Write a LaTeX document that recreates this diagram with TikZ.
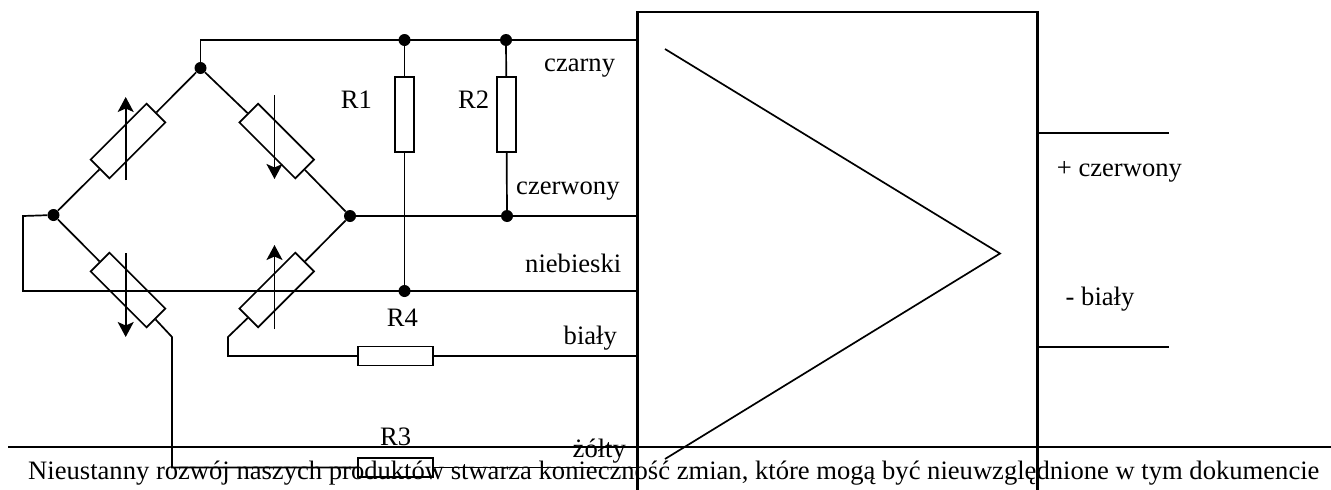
\documentclass[tikz,border=0pt]{standalone}
\usepackage{fontspec}
\setmainfont{Liberation Serif}
\usetikzlibrary{arrows.meta}
\begin{document}
\begin{tikzpicture}[x=1pt, y=-1pt,
  wire/.style={line width=1.7pt},
  thickwire/.style={line width=2.2pt},
  blockres/.style={rectangle, draw, line width=1.7pt, minimum width=75pt, minimum height=19pt, inner sep=0pt},
  bridgeres/.style={rectangle, draw, line width=1.7pt, minimum width=79pt, minimum height=26.5pt, inner sep=0pt},
  dot/.style={circle, fill=black, minimum size=12pt, inner sep=0pt},
  lab/.style={inner sep=0pt, anchor=base west, font=\fontsize{26.6pt}{30pt}\selectfont},
  sens/.style={line width=1.7pt, -{Stealth[length=15pt,width=16pt,inset=3.5pt]}}]
  \useasboundingbox (0,0) rectangle (1331,490);
  % bridge
  \node[dot] (top) at (200.5,68) {};
  \node[dot] (left) at (53.5,215) {};
  \node[dot] (right) at (350,216) {};
  \node[bridgeres, rotate=45] (Rul) at (128,141) {};
  \node[bridgeres, rotate=-45] (Rur) at (276.7,141) {};
  \node[bridgeres, rotate=-45] (Rll) at (128,290) {};
  \node[bridgeres, rotate=45] (Rlr) at (276.7,290) {};
  \coordinate (bendll) at (172,337);
  \coordinate (bendlr) at (228,337);
  \coordinate (loopa) at (23,216);
  \coordinate (loopb) at (23,291);
  \draw[wire] (top) -- (Rul);
  \draw[wire] (top) -- (Rur);
  \draw[wire] (left) -- (Rul);
  \draw[wire] (right) -- (Rur);
  \draw[wire] (left) -- (Rll);
  \draw[wire] (right) -- (Rlr);

  % block
  \coordinate (blocktl) at (637.5,12);
  \coordinate (blocktr) at (1037.5,12);
  \coordinate (blockbl) at (637.5,490);
  \coordinate (blockbr) at (1037.5,490);
  \draw[thickwire] (blockbl) -- (blocktl) -- (blocktr) -- (blockbr);
  \coordinate (ampa) at (665,49);
  \coordinate (ampb) at (1000,253.5);
  \coordinate (ampc) at (665,459);
  \draw[wire] (ampa) -- (ampb) -- (ampc);
  \coordinate (outa) at (1168.5,132.7);
  \coordinate (outb) at (1168.5,347);
  \draw[wire] (outa) -- (outa -| blocktr);
  \draw[wire] (outb) -- (outb -| blocktr);

  % upper wires
  \coordinate (blacka) at (200.5,40);
  \node[dot] (n1) at (404.5,40) {};
  \node[dot] (n2) at (506,40) {};
  \node[blockres, rotate=90] (R1) at (404.5,114.5) {};
  \node[blockres, rotate=90] (R2) at (506.5,114.5) {};
  \node[dot] (n3) at (507,216) {};
  \node[dot] (n4) at (404.5,291) {};
  \draw[wire] (top) -- (blacka) -- (blacka -| blocktl);
  \draw[wire] (n1) -- (R1);
  \draw[wire] (R1) -- (n4);
  \draw[wire] (n2) -- (R2);
  \draw[wire] (R2) -- (n3);
  \draw[wire] (right) -- (right -| blocktl);
  \draw[wire] (left) -- (loopa) -- (loopb) -- (loopb -| blocktl);

  % lower wires
  \node[blockres] (R4) at (395.5,356) {};
  \node[blockres] (R3) at (395.5,467.5) {};
  \coordinate (lowa) at (228,356);
  \coordinate (lowb) at (172,467.5);
  \draw[wire] (Rlr) -- (bendlr) -- (lowa) -- (R4);
  \draw[wire] (R4) -- (R4 -| blocktl);
  \draw[wire] (Rll) -- (bendll) -- (lowb) -- (R3);
  \draw[wire] (R3) -- (R3 -| blocktl);

  % sliders
  \coordinate (ula) at (125.7,180);
  \coordinate (ulb) at (125.7,97);
  \coordinate (ura) at (274.5,95);
  \coordinate (urb) at (274.5,179);
  \coordinate (lla) at (125.7,253);
  \coordinate (llb) at (125.7,337);
  \coordinate (lra) at (274.5,329);
  \coordinate (lrb) at (274.5,245);
  \draw[sens] (ula) -- (ulb);
  \draw[sens] (ura) -- (urb);
  \draw[sens] (lla) -- (llb);
  \draw[sens] (lra) -- (lrb);

  % footer
  \coordinate (rulea) at (8,447);
  \coordinate (ruleb) at (1331,447);
  \draw[thickwire] (rulea) -- (ruleb);

  \node[lab] (t1) at (544,71) {czarny};
  \node[lab] (t2) at (516,194) {czerwony};
  \node[lab] (t3) at (525,272) {niebieski};
  \node[lab] (t4) at (563.5,344) {biały};
  \node[lab] (t5) at (572.5,457) {żółty};
  \node[lab] (t6) at (340.7,108) {R1};
  \node[lab] (t7) at (458,108) {R2};
  \node[lab] (t8) at (386.7,326) {R4};
  \node[lab] (t9) at (380,445) {R3};
  \node[lab] (t10) at (1056.7,176) {+ czerwony};
  \node[lab] (t11) at (1065.5,305) {- biały};
  \node[lab] (t12) at (28,479) {Nieustanny rozwój naszych produktów stwarza konieczność zmian, które mogą być nieuwzględnione w tym dokumencie};
\end{tikzpicture}
\end{document}
